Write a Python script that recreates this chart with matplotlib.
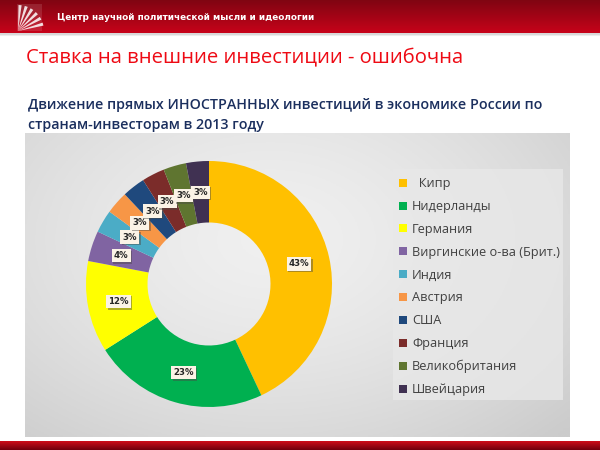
import numpy as np
import matplotlib.pyplot as plt
from matplotlib.patches import Rectangle, Polygon
import matplotlib.patheffects as pe

# Данные: прямые иностранные инвестиции по странам-инвесторам, 2013
countries = ['Кипр', 'Нидерланды', 'Германия', 'Виргинские о-ва (Брит.)', 'Индия',
             'Австрия', 'США', 'Франция', 'Великобритания', 'Швейцария']
shares = [43, 23, 12, 4, 3, 3, 3, 3, 3, 3]
colors = ['#FFC000', '#00B050', '#FFFF00', '#8064A2', '#4BACC6',
          '#F79646', '#1F497D', '#7B2C2A', '#5F7530', '#403152']

header_text = 'Центр научной политической мысли и идеологии'
title = 'Ставка на внешние инвестиции - ошибочна'
subtitle = ['Движение прямых ИНОСТРАННЫХ инвестиций в экономике России по',
            'странам-инвесторам в 2013 году']

W, H = 600, 450
fig = plt.figure(figsize=(6, 4.5), dpi=100)
fig.patch.set_facecolor('white')

# фон в пиксельных координатах
bg = fig.add_axes([0, 0, 1, 1])
bg.set_xlim(0, W)
bg.set_ylim(H, 0)
bg.axis('off')

# шапка с градиентом
grad = np.linspace(0, 1, 64).reshape(-1, 1)
top = np.array([0.50, 0.02, 0.07])
bot = np.array([0.78, 0.01, 0.10])
hdr = top + (bot - top) * grad[..., None]
bg.imshow(hdr, extent=(0, W, 33, 0), aspect='auto', zorder=1)
bg.imshow(np.array([[[0.85, 0.85, 0.85]], [[1, 1, 1]]]), extent=(0, W, 38, 33),
          aspect='auto', zorder=1)

# логотип
bg.add_patch(Rectangle((17, 4), 25, 27, facecolor='white', alpha=0.12,
                       edgecolor='none', zorder=2))
for k in range(6):
    a = np.radians(12 + k * 14)
    x0, y0 = 18, 31
    bg.add_patch(Polygon([[x0, y0], [x0 + 26 * np.cos(a), y0 - 26 * np.sin(a)],
                          [x0 + 26 * np.cos(a + 0.12), y0 - 26 * np.sin(a + 0.12)]],
                         closed=True, facecolor='white', edgecolor='none',
                         alpha=0.85, zorder=2))
bg.text(57, 17, header_text, color='white', fontsize=6.4, fontweight='bold',
        va='center', ha='left', zorder=3)

# заголовок
bg.text(26, 58, title, color='#EE0A14', fontsize=14.6, va='center', ha='left',
        family='Open Sans', zorder=3)
bg.text(28, 105, subtitle[0], color='#1B2F5E', fontsize=10.3, va='center',
        ha='left', family='Open Sans', fontweight='semibold', zorder=3)
bg.text(28, 125, subtitle[1], color='#1B2F5E', fontsize=10.3, va='center',
        ha='left', family='Open Sans', fontweight='semibold', zorder=3)

# серая панель с виньеткой
yy, xx = np.mgrid[0:1:120j, 0:1:200j]
d = np.sqrt(((xx - 0.45) / 0.75) ** 2 + ((yy - 0.35) / 0.9) ** 2)
val = 0.94 - 0.14 * np.clip(d, 0, 1) ** 1.5
panel = np.dstack([val, val, val])
bg.imshow(panel, extent=(25, 570, 437, 133), aspect='auto', zorder=1)

# рамка легенды
bg.add_patch(Rectangle((393, 169), 170, 231, facecolor='#E8E8E8',
                       edgecolor='none', alpha=0.8, zorder=2))

# нижняя полоса
bgrad = np.linspace(0, 1, 16).reshape(-1, 1)
c1 = np.array([0.80, 0.05, 0.10])
c2 = np.array([0.45, 0.0, 0.05])
bb = c1 + (c2 - c1) * bgrad[..., None]
bg.imshow(bb, extent=(0, W, 450, 441), aspect='auto', zorder=1)

# кольцевая диаграмма
cx, cy, R = 209, 284, 123
ax = fig.add_axes([(cx - R) / W, (H - cy - R) / H, 2 * R / W, 2 * R / H])
ax.set_facecolor('none')
wedges, texts, autotexts = ax.pie(
    shares, colors=colors, startangle=90, counterclock=False,
    radius=1, autopct='%d%%', pctdistance=0.75,
    wedgeprops=dict(width=0.5, edgecolor='none'),
    textprops=dict(fontsize=6.2, fontweight='bold', color='#262626'))
ax.set_xlim(-1, 1)
ax.set_ylim(-1, 1)
ax.set_aspect('equal')
ax.axis('off')
for t in autotexts:
    t.set_bbox(dict(boxstyle='square,pad=0.25', facecolor='#FBF3E6',
                    edgecolor='none',
                    path_effects=[pe.withSimplePatchShadow(offset=(1.2, -1.2),
                                                           alpha=0.45)]))

# легенда
leg = fig.legend(wedges, ['  ' + countries[0]] + countries[1:],
                 loc='upper left', bbox_to_anchor=(389 / W, 1 - 167 / H),
                 frameon=False, labelspacing=0.77,
                 handlelength=0.6, handleheight=0.6, handletextpad=0.4,
                 borderpad=0.3, prop=dict(family='Open Sans', size=9.2))
for t in leg.get_texts():
    t.set_color('#404040')

fig.savefig('out.png', dpi=100)
